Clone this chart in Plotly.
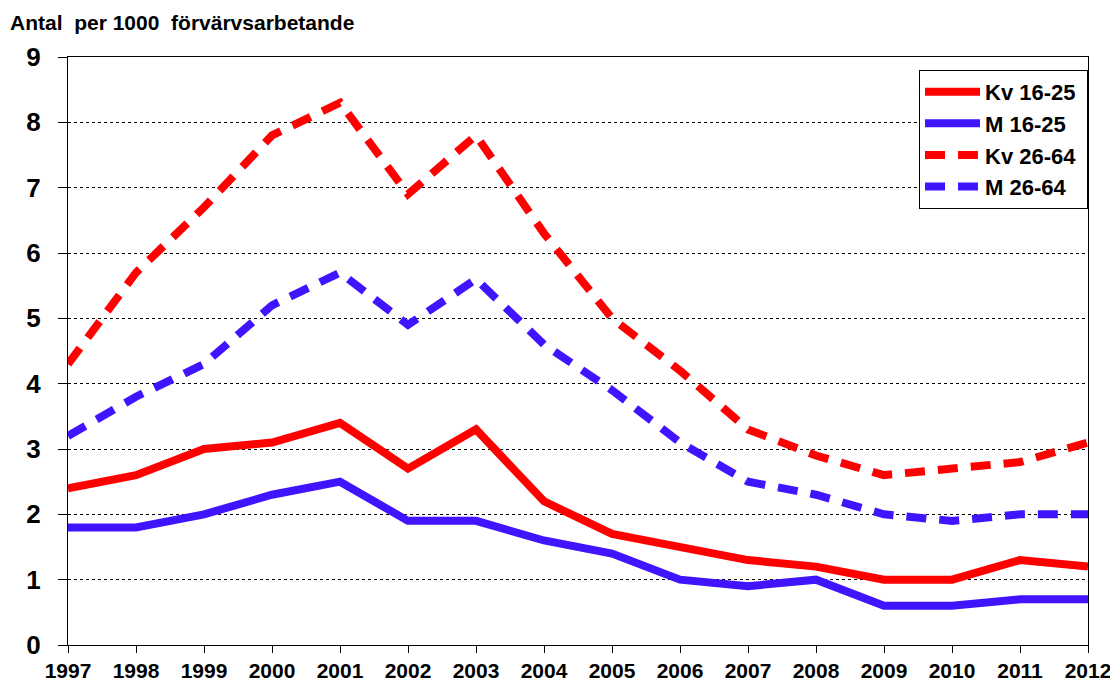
import plotly.graph_objects as go

# Years on the x axis
years = list(range(1997, 2013))

# Values (antal per 1000 förvärvsarbetande)
kv_16_25 = [2.4, 2.6, 3.0, 3.1, 3.4, 2.7, 3.3, 2.2, 1.7, 1.5, 1.3, 1.2, 1.0, 1.0, 1.3, 1.2]
m_16_25 = [1.8, 1.8, 2.0, 2.3, 2.5, 1.9, 1.9, 1.6, 1.4, 1.0, 0.9, 1.0, 0.6, 0.6, 0.7, 0.7]
kv_26_64 = [4.3, 5.7, 6.7, 7.8, 8.3, 6.9, 7.8, 6.3, 5.0, 4.2, 3.3, 2.9, 2.6, 2.7, 2.8, 3.1]
m_26_64 = [3.2, 3.8, 4.3, 5.2, 5.7, 4.9, 5.6, 4.6, 3.9, 3.1, 2.5, 2.3, 2.0, 1.9, 2.0, 2.0]

red = '#FF0000'
blue = '#4114FF'
dash = '20px,13px'

fig = go.Figure()

fig.add_trace(go.Scatter(x=years, y=kv_16_25, mode='lines', name='Kv 16-25\u00a0',
                         line=dict(color=red, width=8)))
fig.add_trace(go.Scatter(x=years, y=m_16_25, mode='lines', name='M\u00a016-25\u00a0',
                         line=dict(color=blue, width=8)))
fig.add_trace(go.Scatter(x=years, y=kv_26_64, mode='lines', name='Kv 26-64\u00a0',
                         line=dict(color=red, width=8, dash=dash)))
fig.add_trace(go.Scatter(x=years, y=m_26_64, mode='lines', name='M 26-64\u00a0',
                         line=dict(color=blue, width=8, dash=dash)))

# the page body adds an 8px offset, margins are set against that
fig.update_layout(
    width=1110, height=676,
    margin=dict(l=60, r=30, t=49, b=39),
    paper_bgcolor='white', plot_bgcolor='white',
    font=dict(family='Liberation Sans, Arial, sans-serif', color='black'),
    showlegend=True,
    legend=dict(
        x=1, y=0.978, xanchor='right', yanchor='top',
        bgcolor='white', bordercolor='black', borderwidth=1,
        font=dict(size=22, family='Liberation Sans, Arial, sans-serif', weight='bold'),
        itemwidth=55, tracegroupgap=0,
    ),
    annotations=[dict(
        text='Antal  per 1000  förvärvsarbetande', xref='paper', yref='paper',
        x=-0.0588, y=1.0595, xanchor='left', yanchor='middle', showarrow=False,
        font=dict(size=21, weight='bold'),
    )],
)

fig.update_xaxes(
    range=[1997, 2012], tickmode='array', tickvals=years,
    ticks='outside', ticklen=7, tickcolor='black',
    showline=True, linecolor='black', linewidth=1, mirror=True,
    showgrid=False, zeroline=False, automargin=False,
    tickfont=dict(size=21, weight='bold'),
)

fig.update_yaxes(
    range=[0, 9], dtick=1,
    ticks='outside', ticklen=9, tickcolor='black',
    showline=True, linecolor='black', linewidth=1, mirror=True,
    showgrid=True, gridcolor='black', gridwidth=1, griddash='dot',
    zeroline=False, ticklabelstandoff=12, automargin=False,
    tickfont=dict(size=26, weight='bold'),
)

fig.write_html("out.html")
